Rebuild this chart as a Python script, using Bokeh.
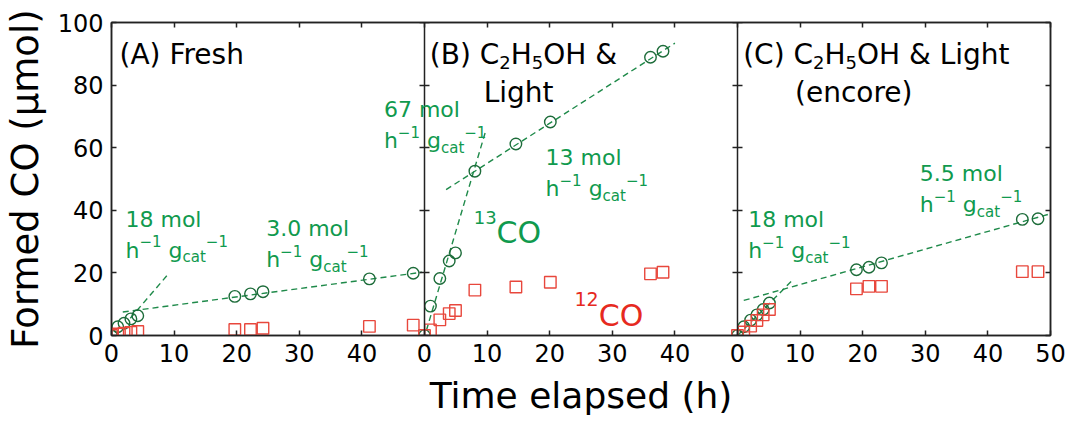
from bokeh.plotting import figure
from bokeh.models import Range1d, LinearAxis, FixedTicker, Label
from bokeh.embed import file_html
from bokeh.resources import INLINE

# ---------------- data ----------------
time_A = [0, 1.0, 2.0, 3.1, 4.2, 19.7, 22.2, 24.2, 41.2, 48.2]
co13_A = [0, 2.8, 3.9, 5.3, 6.3, 12.5, 13.3, 14.0, 18.1, 19.9]
co12_A = [0, 0.5, 0.7, 1.0, 1.3, 1.9, 1.9, 2.3, 2.9, 3.3]

time_B = [0, 0.95, 2.45, 3.95, 4.95, 8.05, 14.6, 20.1, 36.1, 38.1]
co13_B = [0, 9.4, 18.2, 23.8, 26.4, 52.5, 61.2, 68.2, 88.9, 90.8]
co12_B = [0, 1.8, 5.0, 7.0, 8.0, 14.5, 15.5, 17.0, 19.7, 20.2]

time_C = [0, 1.0, 2.1, 3.1, 4.1, 5.1, 19.0, 21.0, 23.0, 45.5, 48.0]
co13_C = [0, 2.8, 4.9, 6.6, 8.3, 10.4, 21.0, 21.8, 23.2, 37.1, 37.3]
co12_C = [0, 1.1, 3.0, 4.8, 6.6, 8.3, 14.9, 15.7, 15.7, 20.4, 20.4]

# dashed rate fits (endpoints)
fitA_fast_t, fitA_fast_v = [3.0, 9.1], [5.5, 19.7]
fitA_slow_t, fitA_slow_v = [1.8, 49.6], [7.5, 20.2]
fitB_fast_t, fitB_fast_v = [0.3, 9.8], [1.6, 65.5]
fitB_slow_t, fitB_slow_v = [3.45, 40.0], [46.6, 93.4]
fitC_fast_t, fitC_fast_v = [0.0, 9.0], [0.0, 18.1]
fitC_slow_t, fitC_slow_v = [1.0, 50.0], [11.2, 38.9]

panel_ticks = [0, 10, 20, 30, 40, 50]
y_ticks = [0, 20, 40, 60, 80, 100]

# ---------------- style ----------------
FONT = "DejaVu Sans"
GREEN_MARK = "#1d6c3a"
GREEN_LINE = "#1f8a4a"
GREEN_TEXT = "#109a4e"
RED_MARK = "#e8473c"
RED_TEXT = "#e62a1f"
FRAME = "#222222"

W_L, W_R, W_T, W_B = 109, 18, 22, 88
WIDTH, HEIGHT = 1068, 423
FW = WIDTH - W_L - W_R
FH = HEIGHT - W_T - W_B
XSPAN = 150.0

p = figure(width=WIDTH, height=HEIGHT, output_backend="svg", toolbar_location=None,
           x_range=Range1d(0, XSPAN), y_range=Range1d(0, 100),
           x_axis_type=None, y_axis_type=None,
           min_border_left=W_L, min_border_right=W_R,
           min_border_top=W_T, min_border_bottom=W_B)
p.extra_x_ranges = {"B": Range1d(-50, 100), "C": Range1d(-100, 50)}
p.outline_line_color = FRAME
p.outline_line_width = 1.5
p.background_fill_color = "white"
p.border_fill_color = "white"

# ---------------- axes ----------------
xt = []
xl = {}
for k in range(3):
    for t in panel_ticks:
        pos = 50 * k + t
        if pos not in xt:
            xt.append(pos)
        if t == 50 and k < 2:
            continue
        xl[pos] = str(t)

def style_axis(ax, tin=5, tout=0):
    ax.major_tick_in = tin
    ax.major_tick_out = tout
    ax.minor_tick_in = tin
    ax.minor_tick_out = tout
    ax.major_tick_line_color = FRAME
    ax.minor_tick_line_color = FRAME
    ax.major_tick_line_width = 1.5
    ax.minor_tick_line_width = 1.5
    ax.axis_line_color = FRAME
    ax.axis_line_width = 1.5
    ax.major_label_text_font = FONT
    ax.major_label_text_font_size = "24px"
    ax.major_label_text_color = "black"
    ax.axis_label_text_font = FONT
    ax.axis_label_text_font_style = "normal"
    ax.axis_label_text_color = "black"

xaxis = LinearAxis(ticker=FixedTicker(ticks=xt, minor_ticks=[]), major_label_overrides=xl,
                   axis_label="Time elapsed (h)")
style_axis(xaxis)
xaxis.major_label_standoff = 8
xaxis.axis_label_text_font_size = "36px"
xaxis.axis_label_standoff = 10
p.add_layout(xaxis, "below")

yaxis = LinearAxis(ticker=FixedTicker(ticks=y_ticks, minor_ticks=[]), axis_label="Formed CO (µmol)")
style_axis(yaxis)
yaxis.major_label_standoff = 8
yaxis.axis_label_text_font_size = "37px"
yaxis.axis_label_standoff = 8
p.add_layout(yaxis, "left")

# label-free tick rows: the positions are given as minor ticks (no labels)
top = LinearAxis(ticker=FixedTicker(ticks=[], minor_ticks=xt))
style_axis(top)
p.add_layout(top, "above")

right = LinearAxis(ticker=FixedTicker(ticks=[], minor_ticks=y_ticks))
style_axis(right)
p.add_layout(right, "right")

for loc in (50, 100):
    ax = LinearAxis(ticker=FixedTicker(ticks=[], minor_ticks=y_ticks), fixed_location=loc)
    style_axis(ax, tin=5, tout=5)
    p.add_layout(ax, "right")

# ---------------- data renderers ----------------
def dash(t, v, rn):
    p.line(t, v, line_color=GREEN_LINE, line_width=1.4, line_dash="6 4", x_range_name=rn)

dash(fitA_fast_t, fitA_fast_v, "default")
dash(fitA_slow_t, fitA_slow_v, "default")
dash(fitB_fast_t, fitB_fast_v, "B")
dash(fitB_slow_t, fitB_slow_v, "B")
dash(fitC_fast_t, fitC_fast_v, "C")
dash(fitC_slow_t, fitC_slow_v, "C")

for t, v13, v12, rn in ((time_A, co13_A, co12_A, "default"),
                        (time_B, co13_B, co12_B, "B"),
                        (time_C, co13_C, co12_C, "C")):
    p.scatter(t, v13, marker="circle", size=11.5, fill_color=None,
              line_color=GREEN_MARK, line_width=1.4, x_range_name=rn)
    p.scatter(t, v12, marker="square", size=11.5, fill_color=None,
              line_color=RED_MARK, line_width=1.4, x_range_name=rn)

# ---------------- text annotations ----------------
ADV = {" ": .318, "&": .779, "(": .390, ")": .390, ".": .318, "A": .684, "B": .686,
       "C": .698, "F": .575, "H": .752, "L": .557, "O": .787, "a": .613, "c": .550,
       "e": .615, "g": .635, "h": .634, "i": .278, "l": .278, "m": .974, "n": .634,
       "o": .612, "r": .411, "s": .521, "t": .392, "\u2212": .838}

def tw(s, size):
    return sum(ADV.get(ch, .636) for ch in s) * size

def rich(xpx, ypx, parts, color, size, small, rise, drop):
    x0 = (xpx - W_L) / FW * XSPAN
    y0 = (W_T + FH - ypx) / FH * 100
    dx = 0.0
    for txt, kind in parts:
        fs = size if kind == "n" else small
        dy = rise if kind == "sup" else (-drop if kind == "sub" else 0)
        stripped = txt.lstrip(" ")
        dx += tw(txt[:len(txt) - len(stripped)], fs)
        p.add_layout(Label(x=x0, y=y0, x_offset=dx, y_offset=dy, text=stripped,
                           text_font=FONT, text_font_size=f"{fs}px",
                           text_color=color, text_baseline="alphabetic",
                           text_align="left"))
        dx += tw(stripped, fs)

def title(xpx, ypx, parts):
    rich(xpx, ypx, parts, "black", 28, 18, 0, 8)

title(117, 54, [("(A) Fresh", "n")])
title(428, 54, [("(B) C", "n"), ("2", "sub"), ("H", "n"), ("5", "sub"), ("OH &", "n")])
title(482, 91.5, [("Light", "n")])
title(742, 54, [("(C) C", "n"), ("2", "sub"), ("H", "n"), ("5", "sub"), ("OH & Light", "n")])
title(794, 91.5, [("(encore)", "n")])

unit_parts = [("h", "n"), ("\u22121", "sup"), (" g", "n"), ("cat", "sub"), ("\u22121", "sup")]

def rate(xpx, ypx, value):
    rich(xpx, ypx, [(value + " mol", "n")], GREEN_TEXT, 22, 15, 9, 7)
    rich(xpx, ypx + 31, unit_parts, GREEN_TEXT, 22, 15, 9, 7)

rate(123, 218.5, "18")
rate(264, 228, "3.0")
rate(382, 109, "67")
rate(544, 157, "13")
rate(747, 219, "18")
rate(919, 173, "5.5")

rich(472, 231.5, [("13", "sup"), ("CO", "n")], GREEN_TEXT, 30, 18, 15, 0)
rich(573, 315, [("12", "sup"), ("CO", "n")], RED_TEXT, 30, 19, 16.5, 0)

open("out.html", "w").write(file_html(p, INLINE))
